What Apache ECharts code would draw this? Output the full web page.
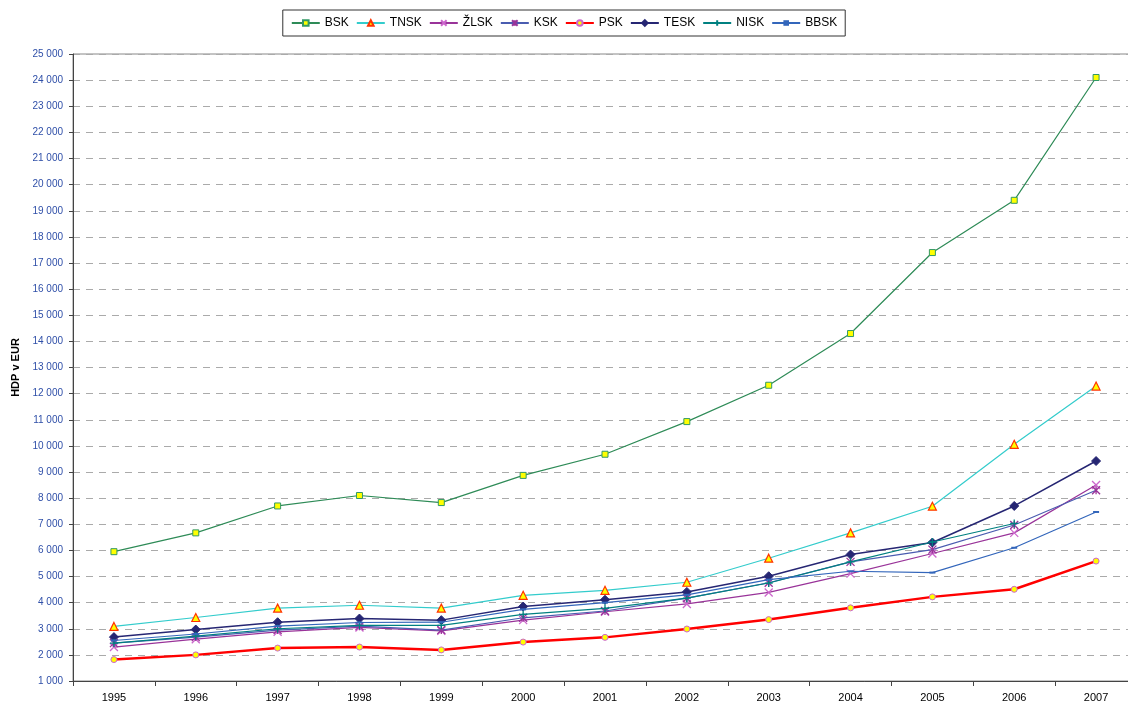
<!DOCTYPE html>
<html>
<head>
<meta charset="utf-8">
<script src="https://cdn.jsdelivr.net/npm/echarts@6/dist/echarts.min.js"></script>
<style>
html,body{margin:0;padding:0;background:#fff;}
#c{width:1128px;height:704px;}
</style>
</head>
<body>
<div id="c"></div>
<script>
var years = ['1995','1996','1997','1998','1999','2000','2001','2002','2003','2004','2005','2006','2007'];
var bsk  = [5950, 6670, 7700, 8100, 7830, 8870, 9680, 10930, 12320, 14300, 17400, 19400, 24100];
var tnsk = [3090, 3430, 3790, 3900, 3790, 4280, 4470, 4780, 5700, 6670, 7690, 10060, 12290];
var zlsk = [2300, 2600, 2880, 3050, 2920, 3330, 3650, 3950, 4390, 5110, 5880, 6670, 8500];
var ksk  = [2450, 2680, 2950, 3100, 2950, 3420, 3680, 4170, 4760, 5560, 6030, 6970, 8300];
var psk  = [1820, 2000, 2260, 2300, 2190, 2490, 2670, 2990, 3350, 3800, 4220, 4510, 5590];
var tesk = [2680, 2970, 3250, 3390, 3330, 3850, 4110, 4410, 5010, 5840, 6300, 7700, 9420];
var nisk = [2450, 2720, 3000, 3130, 3130, 3550, 3780, 4170, 4750, 5560, 6320, 7030, null];
var bbsk = [2550, 2800, 3100, 3240, 3250, 3740, 4000, 4300, 4880, 5200, 5150, 6100, 7470];
var names = ['BSK','TNSK','ŽLSK','KSK','PSK','TESK','NISK','BBSK'];

var FONT = '"Liberation Sans", Arial, sans-serif';
var chart = echarts.init(document.getElementById('c'), null, {renderer:'canvas'});

function mk(name, data, lineColor, lw, symbol, size, fill, border, bw, z) {
  return {
    name: name, type: 'line', data: data, symbol: symbol, symbolSize: size,
    showAllSymbol: true, connectNulls: false, z: z,
    lineStyle: {color: lineColor, width: lw},
    itemStyle: {color: fill, borderColor: border, borderWidth: bw},
    emphasis: {disabled: true},
    animation: false
  };
}

var option = {
  animation: false,
  backgroundColor: '#fff',
  textStyle: {fontFamily: FONT},
  legend: {
    top: 10, left: 'center',
    data: names,
    borderColor: '#333', borderWidth: 1,
    padding: [7, 8, 7, 8],
    itemGap: 7, itemWidth: 28, itemHeight: 7,
    textStyle: {fontFamily: FONT, fontSize: 12, color: '#000'},
    backgroundColor: '#fff'
  },
  grid: {
    left: 73, top: 54, width: 1064, height: 627,
    outerBoundsMode: 'none', containLabel: false,
    show: true, borderColor: '#888', borderWidth: 1, backgroundColor: 'transparent'
  },
  xAxis: {
    type: 'category', data: years, boundaryGap: true,
    axisLine: {lineStyle: {color: '#444', width: 1}},
    axisTick: {show: true, length: 5, alignWithLabel: false, lineStyle: {color: '#444'}},
    axisLabel: {color: '#000', fontSize: 11, fontFamily: FONT, margin: 11, interval: 0},
    splitLine: {show: false}
  },
  yAxis: {
    type: 'value', min: 1000, max: 25000, interval: 1000,
    name: 'HDP v EUR', nameLocation: 'middle', nameGap: 47, nameRotate: 90,
    nameTextStyle: {fontFamily: FONT, fontSize: 11, fontWeight: 'bold', color: '#000'},
    axisLine: {show: true, lineStyle: {color: '#444', width: 1}},
    axisTick: {show: true, length: 4, lineStyle: {color: '#444'}},
    axisLabel: {
      color: '#2f4fa8', fontSize: 10, fontFamily: FONT, margin: 10,
      formatter: function (v) { return String(v).replace(/\B(?=(\d{3})+(?!\d))/g, ' '); }
    },
    splitLine: {show: true, lineStyle: {color: '#aaa', type: [7, 6], width: 1}}
  },
  series: [
    mk('BSK', bsk, '#2e8b57', 1.2, 'rect', 6, '#ffff00', '#339966', 1, 2),
    mk('TNSK', tnsk, '#33cccc', 1.2, 'triangle', 8, '#ffff00', '#ff3300', 1.2, 3),
    mk('ŽLSK', zlsk, '#993399', 1.2, 'path://M0,0L10,10M10,0L0,10', 8, 'none', '#cc66cc', 1.3, 4),
    mk('KSK', ksk, '#4a5cb0', 1.2, 'path://M0,0L10,10M10,0L0,10M5,0L5,10', 8, 'none', '#993399', 1.3, 5),
    mk('PSK', psk, '#ff0000', 2.5, 'circle', 6, '#ffff00', '#cc66cc', 1, 6),
    mk('TESK', tesk, '#262673', 1.5, 'diamond', 9, '#262673', '#262673', 1, 7),
    mk('NISK', nisk, '#008080', 1.2, 'path://M5,0L5,10M0,5L10,5', 8, 'none', '#008080', 1.3, 8),
    mk('BBSK', bbsk, '#3366bb', 1.2, 'rect', [6, 2], '#3366bb', '#3366bb', 0, 9)
  ]
};
chart.setOption(option);
</script>
</body>
</html>
